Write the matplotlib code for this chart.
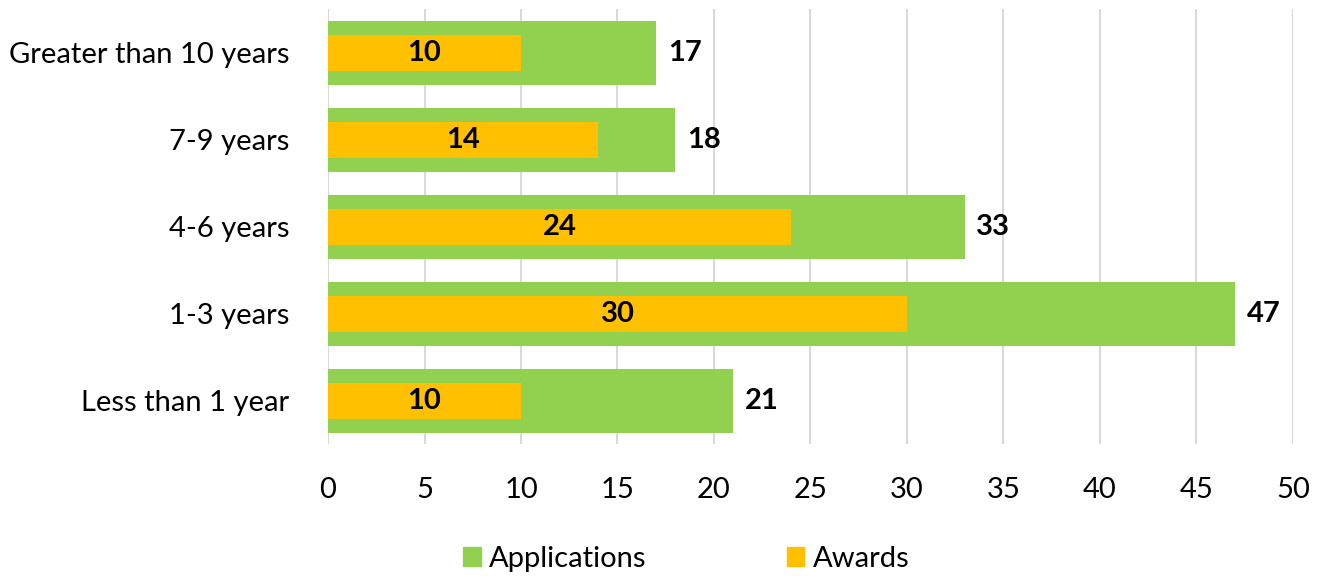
import numpy as np
import matplotlib
matplotlib.use("Agg")
import matplotlib.pyplot as plt
from matplotlib.patches import Patch

categories = ["Less than 1 year", "1-3 years", "4-6 years", "7-9 years", "Greater than 10 years"]
applications = [21, 47, 33, 18, 17]
awards = [10, 30, 24, 14, 10]

green = "#92D050"
orange = "#FFC000"

plt.rcParams['font.family'] = ['Lato', 'DejaVu Sans']

fig = plt.figure(figsize=(13.2, 5.76), dpi=100)
ax = fig.add_axes([0.2485, 0.229, 0.731, 0.755])

y = np.arange(len(categories))
ax.barh(y, applications, height=0.736, color=green, zorder=2)
ax.barh(y, awards, height=0.414, color=orange, zorder=3)

for i in range(len(categories)):
    ax.text(applications[i] + 0.6, y[i], str(applications[i]), va='center', ha='left',
            fontsize=21, fontweight='bold', color='black')
    ax.text(awards[i] / 2, y[i], str(awards[i]), va='center', ha='center',
            fontsize=21, fontweight='bold', color='black', zorder=4)

ax.set_xlim(0, 50)
ax.set_ylim(-0.5, 4.5)
ax.set_xticks(np.arange(0, 51, 5))
ax.set_yticks(y)
ax.set_yticklabels(categories)
ax.tick_params(axis='both', length=0, labelsize=21)
ax.tick_params(axis='x', pad=24)
ax.tick_params(axis='y', pad=28)
ax.grid(axis='x', color='#D9D9D9', linewidth=1.5, zorder=0)
for s in ax.spines.values():
    s.set_visible(False)

handles = [Patch(color=green, label='Applications'), Patch(color=orange, label='Awards')]
fig.legend(handles=handles, loc='center', bbox_to_anchor=(0.52, 0.03), ncol=2, frameon=False,
           fontsize=21, handlelength=0.6, handleheight=0.6, handletextpad=0.3, columnspacing=4.8)

fig.savefig("out.png", dpi=100)
